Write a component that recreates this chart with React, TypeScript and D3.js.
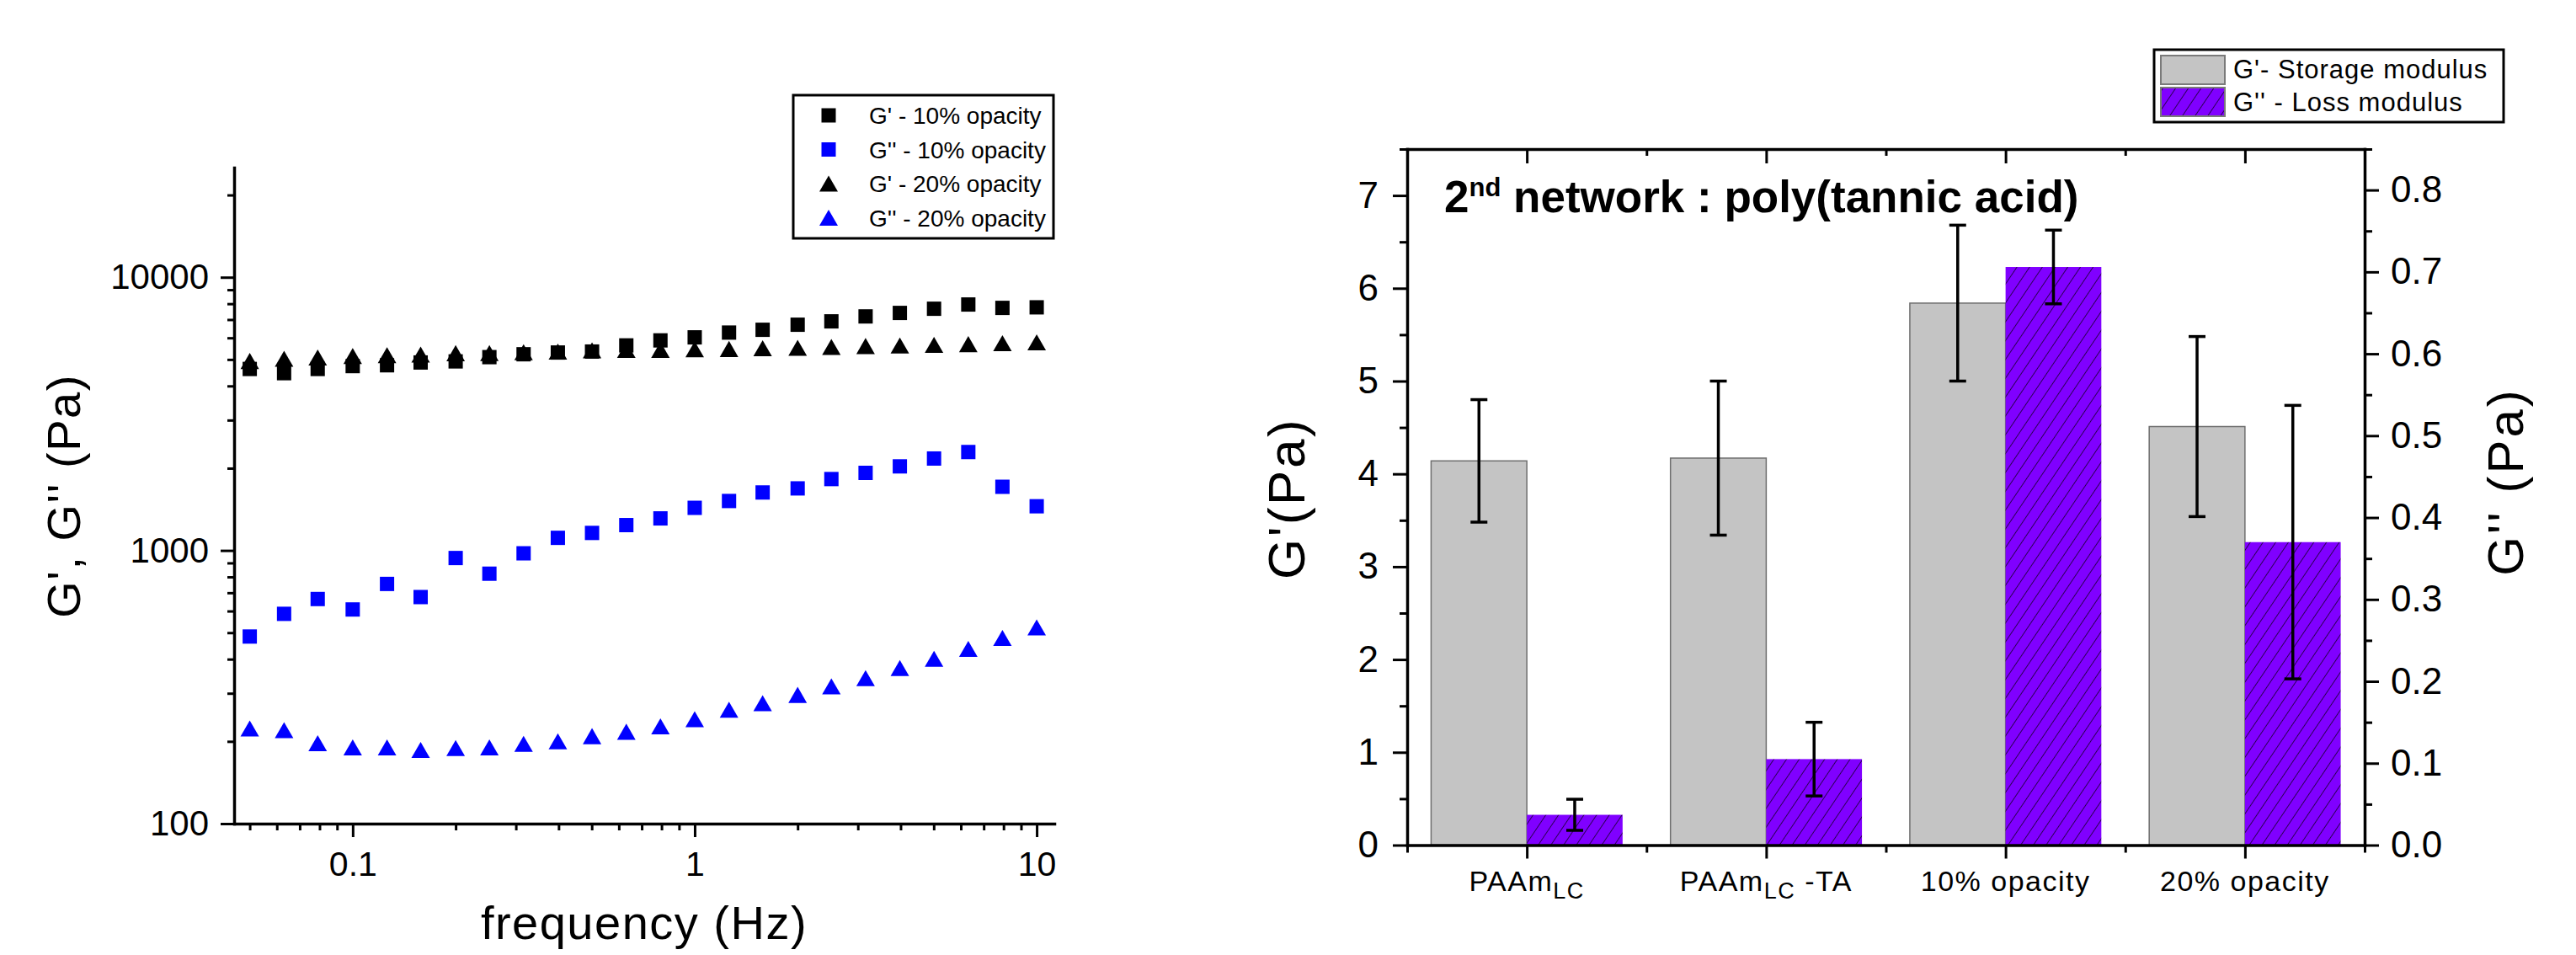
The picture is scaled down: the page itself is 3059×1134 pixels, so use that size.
import React, { useEffect, useRef } from "react";
import * as d3 from "d3";

// left panel: frequency sweep
const freq = [0.05, 0.063, 0.079, 0.1, 0.126, 0.158, 0.2, 0.251, 0.316, 0.398, 0.501, 0.631, 0.794, 1, 1.26, 1.58, 2, 2.51, 3.16, 3.98, 5.01, 6.31, 7.94, 10];
const gStorage10 = [4616, 4455, 4616, 4729, 4762, 4875, 4920, 5100, 5225, 5302, 5346, 5630, 5873, 6025, 6273, 6422, 6702, 6895, 7188, 7402, 7668, 7947, 7723, 7760];
const gLoss10 = [484, 586, 664, 608, 754, 675, 938, 822, 976, 1112, 1159, 1238, 1310, 1432, 1517, 1630, 1687, 1825, 1923, 2031, 2170, 2292, 1710, 1451];
const gStorage20 = [4938, 5028, 5088, 5149, 5186, 5210, 5272, 5280, 5317, 5340, 5400, 5420, 5424, 5450, 5463, 5494, 5520, 5559, 5600, 5627, 5652, 5692, 5733, 5774];
const gLoss20 = [223, 220, 197, 190, 190, 186, 189, 190, 196, 200, 209, 217, 227, 241, 261, 276, 296, 318, 341, 371, 401, 436, 478, 523];
const freqTicks = [0.1, 1, 10];
const modTicks = [100, 1000, 10000];

const sweepSeries = [
  { name: "G' - 10% opacity", values: gStorage10, color: "#000000", shape: "square" },
  { name: "G'' - 10% opacity", values: gLoss10, color: "#0000ff", shape: "square" },
  { name: "G' - 20% opacity", values: gStorage20, color: "#000000", shape: "triangle" },
  { name: "G'' - 20% opacity", values: gLoss20, color: "#0000ff", shape: "triangle" },
];

// right panel: bars
const groups = ["PAAm_LC", "PAAm_LC -TA", "10% opacity", "20% opacity"];
const storageMod = [4.14, 4.17, 5.84, 4.51];
const storageErr = [0.66, 0.83, 0.84, 0.97];
const lossMod = [0.037, 0.105, 0.706, 0.37];
const lossErr = [0.019, 0.045, 0.045, 0.167];
const leftTicks = [0, 1, 2, 3, 4, 5, 6, 7];
const rightTicks = [0, 0.1, 0.2, 0.3, 0.4, 0.5, 0.6, 0.7, 0.8];

const FONT = "'Liberation Sans', Arial, Helvetica, sans-serif";
const PURPLE = "#8000ff";
const GREY = "#c4c4c4";

const isDecade = (d: number) => Math.abs(Math.log10(d) - Math.round(Math.log10(d))) < 1e-6;

function styleAxis(g: any, size: number) {
  g.attr("font-family", FONT).attr("font-size", size);
  g.select(".domain").attr("stroke-width", 3.5).attr("stroke-linecap", "square");
  g.selectAll(".tick line").attr("stroke-width", 3);
  g.selectAll(".tick text").attr("fill", "#000");
}

function minorAxis(g: any, axis: any) {
  g.call(axis.tickFormat(() => "").tickSizeOuter(0));
  g.select(".domain").remove();
  g.selectAll(".tick line").attr("stroke-width", 3);
}

function drawSweep(svg: any) {
  const x = d3.scaleLog().domain([0.045, 11.26]).range([278, 1252]);
  const y = d3.scaleLog().domain([100, 25200]).range([978, 199]);

  const minorX = x.ticks().filter((d) => !isDecade(d));
  const minorY = y.ticks().filter((d) => !isDecade(d));

  svg.append("g").attr("transform", "translate(278,0)")
    .call((g: any) => minorAxis(g, d3.axisLeft(y).tickValues(minorY).tickSize(8)));
  svg.append("g").attr("transform", "translate(0,978)")
    .call((g: any) => minorAxis(g, d3.axisBottom(x).tickValues(minorX).tickSize(8)));

  const ya = svg.append("g").attr("transform", "translate(278,0)")
    .call(d3.axisLeft(y).tickValues(modTicks).tickSize(16).tickSizeOuter(0).tickPadding(14).tickFormat(d3.format("d")));
  styleAxis(ya, 42);
  const xa = svg.append("g").attr("transform", "translate(0,978)")
    .call(d3.axisBottom(x).tickValues(freqTicks).tickSize(16).tickSizeOuter(0).tickPadding(17).tickFormat((d: any) => d3.format("~g")(d)));
  styleAxis(xa, 41);

  svg.append("text")
    .attr("x", 765).attr("y", 1115)
    .attr("text-anchor", "middle")
    .attr("font-family", FONT).attr("font-size", 56).attr("letter-spacing", 1.5)
    .text("frequency (Hz)");
  svg.append("text")
    .attr("transform", "translate(95,589) rotate(-90)")
    .attr("text-anchor", "middle")
    .attr("font-family", FONT).attr("font-size", 56).attr("letter-spacing", 1.5)
    .text("G', G'' (Pa)");

  const sq = d3.symbol(d3.symbolSquare, 17 * 17)();
  const triSide = 22;
  const tri = d3.symbol(d3.symbolTriangle, (triSide * triSide * Math.sqrt(3)) / 4)();
  const triShift = (triSide * Math.sqrt(3)) / 2 / 6;

  sweepSeries.forEach((s) => {
    svg.append("g").selectAll("path")
      .data(s.values)
      .enter()
      .append("path")
      .attr("d", s.shape === "square" ? sq : tri)
      .attr("transform", (d: number, i: number) =>
        `translate(${x(freq[i])},${y(d) + (s.shape === "square" ? 0 : triShift)})`)
      .attr("fill", s.color);
  });

  // legend
  const lg = svg.append("g");
  lg.append("rect").attr("x", 942).attr("y", 113).attr("width", 309).attr("height", 170)
    .attr("fill", "#fff").attr("stroke", "#000").attr("stroke-width", 3);
  sweepSeries.forEach((s, i) => {
    const cy = 137 + i * 40.5;
    lg.append("path")
      .attr("d", s.shape === "square" ? sq : tri)
      .attr("transform", `translate(984,${cy + (s.shape === "square" ? 0 : triShift)})`)
      .attr("fill", s.color);
    lg.append("text")
      .attr("x", 1032).attr("y", cy + 10)
      .attr("font-family", FONT).attr("font-size", 28)
      .text(s.name);
  });
}

function groupLabel(sel: any, name: string) {
  const [main, rest] = name.split("_");
  if (rest === undefined) {
    sel.text(main);
    return;
  }
  const sub = rest.split(" ")[0];
  const after = rest.slice(sub.length);
  sel.append("tspan").text(main);
  sel.append("tspan").attr("font-size", 27).attr("dy", 9).text(sub);
  if (after) sel.append("tspan").attr("dy", -9).text(after);
}

function drawBars(svg: any) {
  const left = 1671, right = 2808, top = 177, bottom = 1003.5;
  const xb = d3.scaleBand().domain(groups).range([left, right]).paddingInner(0.2).paddingOuter(0.1);
  const yL = d3.scaleLinear().domain([0, 7.5]).range([bottom, top]);
  const yR = d3.scaleLinear().domain([0, 0.85]).range([bottom, top]);
  const bw = xb.bandwidth() / 2;
  const step = xb.step();
  const center = (g: string) => (xb(g) as number) + xb.bandwidth() / 2;
  const bounds = [center(groups[0]) - step / 2, ...groups.map((g) => center(g) + step / 2)];

  const defs = svg.append("defs");
  const pat = defs.append("pattern").attr("id", "hatch").attr("patternUnits", "userSpaceOnUse")
    .attr("width", 12.5).attr("height", 12.5).attr("patternTransform", "rotate(34)");
  pat.append("rect").attr("width", 12.5).attr("height", 12.5).attr("fill", PURPLE);
  pat.append("line").attr("x1", 0).attr("y1", 0).attr("x2", 0).attr("y2", 12.5)
    .attr("stroke", "#000").attr("stroke-width", 1.3);

  // bars
  svg.append("g").selectAll("rect")
    .data(groups)
    .enter()
    .append("rect")
    .attr("x", (g: string) => xb(g))
    .attr("y", (g: string, i: number) => yL(storageMod[i]))
    .attr("width", bw)
    .attr("height", (g: string, i: number) => bottom - yL(storageMod[i]))
    .attr("fill", GREY).attr("stroke", "#6e6e6e").attr("stroke-width", 1.5);
  svg.append("g").selectAll("rect")
    .data(groups)
    .enter()
    .append("rect")
    .attr("x", (g: string) => (xb(g) as number) + bw)
    .attr("y", (g: string, i: number) => yR(lossMod[i]))
    .attr("width", bw)
    .attr("height", (g: string, i: number) => bottom - yR(lossMod[i]))
    .attr("fill", "url(#hatch)");

  // error bars
  const err = (cx: number, lo: number, hi: number) => {
    const e = svg.append("g").attr("stroke", "#000").attr("stroke-width", 3.5);
    e.append("line").attr("x1", cx).attr("x2", cx).attr("y1", lo).attr("y2", hi);
    e.append("line").attr("x1", cx - 10).attr("x2", cx + 10).attr("y1", lo).attr("y2", lo);
    e.append("line").attr("x1", cx - 10).attr("x2", cx + 10).attr("y1", hi).attr("y2", hi);
  };
  groups.forEach((g, i) => {
    const x0 = xb(g) as number;
    err(x0 + bw / 2, yL(storageMod[i] - storageErr[i]), yL(storageMod[i] + storageErr[i]));
    err(x0 + bw * 1.5, yR(lossMod[i] - lossErr[i]), yR(lossMod[i] + lossErr[i]));
  });

  // frame + axes
  const lineX = d3.scaleLinear().domain([left, right]).range([left, right]);
  svg.append("g").attr("transform", `translate(0,${top})`)
    .call((g: any) => {
      g.call(d3.axisTop(lineX).tickValues(groups.map(center)).tickSize(-17).tickSizeOuter(0).tickFormat(() => ""));
      styleAxis(g, 10);
    });
  svg.append("g").attr("transform", `translate(0,${top})`)
    .call((g: any) => minorAxis(g, d3.axisTop(lineX).tickValues(bounds.slice(1, -1)).tickSize(-8)));

  const xa = svg.append("g").attr("transform", `translate(0,${bottom})`)
    .call(d3.axisBottom(lineX).tickValues(groups.map(center)).tickSize(16).tickSizeOuter(0).tickFormat(() => ""));
  styleAxis(xa, 10);
  svg.append("g").attr("transform", `translate(0,${bottom})`)
    .call((g: any) => minorAxis(g, d3.axisBottom(lineX).tickValues(bounds).tickSize(9)));

  groups.forEach((g) => {
    const t = svg.append("text")
      .attr("x", center(g)).attr("y", 1058)
      .attr("text-anchor", "middle")
      .attr("font-family", FONT).attr("font-size", 34).attr("letter-spacing", 1.5);
    groupLabel(t, g);
  });

  const minorL = leftTicks.slice(0, -1).map((d) => d + 0.5).concat([7.5]);
  svg.append("g").attr("transform", `translate(${left},0)`)
    .call((g: any) => minorAxis(g, d3.axisLeft(yL).tickValues(minorL).tickSize(9)));
  const la = svg.append("g").attr("transform", `translate(${left},0)`)
    .call(d3.axisLeft(yL).tickValues(leftTicks).tickSize(17).tickSizeOuter(0).tickPadding(17).tickFormat(d3.format("d")));
  styleAxis(la, 44);

  const minorR = rightTicks.map((d) => d + 0.05);
  svg.append("g").attr("transform", `translate(${right},0)`)
    .call((g: any) => minorAxis(g, d3.axisRight(yR).tickValues(minorR).tickSize(9)));
  const ra = svg.append("g").attr("transform", `translate(${right},0)`)
    .call(d3.axisRight(yR).tickValues(rightTicks).tickSize(17).tickSizeOuter(0).tickPadding(14).tickFormat(d3.format(".1f")));
  styleAxis(ra, 44);

  svg.append("text")
    .attr("transform", `translate(1549,592) rotate(-90)`)
    .attr("text-anchor", "middle")
    .attr("font-family", FONT).attr("font-size", 62).attr("letter-spacing", 2.5)
    .text("G'(Pa)");
  svg.append("text")
    .attr("transform", `translate(2996,572) rotate(-90)`)
    .attr("text-anchor", "middle")
    .attr("font-family", FONT).attr("font-size", 60).attr("letter-spacing", 3)
    .text("G'' (Pa)");

  // title
  const title = svg.append("text")
    .attr("x", 1715).attr("y", 252)
    .attr("font-family", FONT).attr("font-size", 53).attr("font-weight", "bold");
  title.append("tspan").text("2");
  title.append("tspan").attr("font-size", 31).attr("dy", -19).text("nd");
  title.append("tspan").attr("dy", 19).text(" network : poly(tannic acid)");

  // legend
  const lg = svg.append("g");
  lg.append("rect").attr("x", 2558).attr("y", 59).attr("width", 415).attr("height", 86)
    .attr("fill", "#fff").attr("stroke", "#000").attr("stroke-width", 3);
  const legendItems = [
    { label: "G'- Storage modulus", fill: GREY },
    { label: "G'' - Loss modulus", fill: "url(#hatch)" },
  ];
  legendItems.forEach((it, i) => {
    lg.append("rect").attr("x", 2566).attr("y", 66 + i * 38).attr("width", 76).attr("height", 34)
      .attr("fill", it.fill).attr("stroke", "#7a7a7a").attr("stroke-width", 2);
    lg.append("text").attr("x", 2652).attr("y", 93 + i * 39)
      .attr("font-family", FONT).attr("font-size", 31).attr("letter-spacing", 1)
      .text(it.label);
  });
}

export default function App() {
  const ref = useRef<SVGSVGElement>(null);

  useEffect(() => {
    const svg = d3.select(ref.current);
    svg.selectAll("*").remove();
    drawSweep(svg);
    drawBars(svg);
  }, []);

  return (
    <svg
      ref={ref}
      width={3059}
      height={1134}
      style={{ position: "absolute", left: 0, top: 0, background: "#fff" }}
    />
  );
}
